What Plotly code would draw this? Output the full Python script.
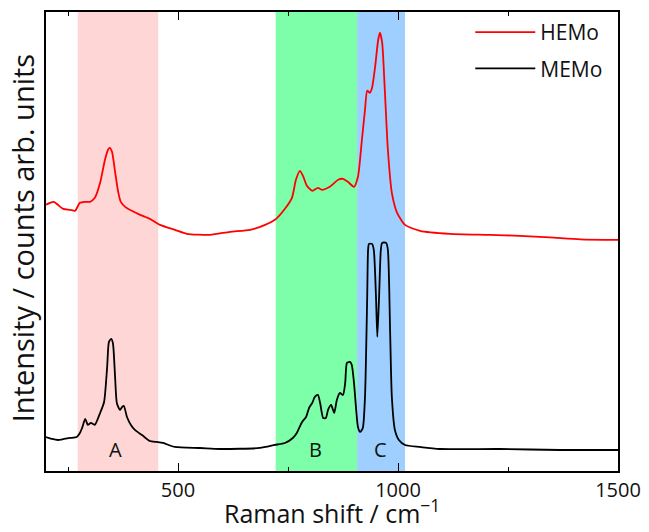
import plotly.graph_objects as go

# ---- data ----
hemo_shift = [200, 209, 218, 227, 239, 255, 266, 277, 289, 300, 311, 323, 334, 341, 345, 350,
              357, 364, 370, 380, 395, 414, 436, 459, 493, 520, 573, 618, 664, 698, 723, 743,
              759, 768, 777, 784, 793, 805, 818, 827, 845, 864, 875, 886, 900, 909, 918, 925,
              930, 936, 941, 948, 955, 959, 964, 970, 977, 986, 998, 1016, 1050, 1118, 1209,
              1277, 1345, 1414, 1500]
hemo_int = [266, 268, 269, 266, 262, 261, 260, 268, 269, 269, 273, 288, 311, 321, 323, 319,
            299, 279, 269, 264, 260, 256, 252, 246, 241, 237, 236, 239, 241, 246, 252, 262,
            273, 291, 300, 295, 285, 280, 283, 281, 284, 291, 292, 289, 284, 294, 331, 361,
            380, 378, 383, 404, 431, 438, 428, 381, 321, 278, 258, 246, 240, 237, 236,
            235, 233.5, 231.5, 231]

memo_shift = [200, 214, 227, 241, 255, 270, 277, 282, 289, 293, 295, 302, 307, 311, 323, 332,
              339, 343, 348, 352, 357, 361, 368, 373, 377, 384, 393, 402, 418, 436, 452, 466,
              493, 550, 595, 686, 720, 743, 761, 770, 782, 791, 798, 805, 811, 818, 823, 830,
              836, 841, 848, 855, 861, 868, 875, 880, 884, 891, 895, 900, 905, 909, 914, 920,
              925, 930, 932, 934, 941, 945, 950, 953, 957, 961, 964, 973, 977, 982, 986, 993,
              1002, 1016, 1050, 1095, 1232, 1368, 1500]
memo_int = [34, 32, 31, 32, 33, 34, 38, 43, 52, 48, 46, 48, 47, 46, 58, 69,
            104, 129, 132, 128, 94, 68, 61, 64, 65, 54, 46, 41, 36, 30, 29, 28,
            24, 23, 22, 23, 26, 28, 33, 38, 49, 54, 63, 68, 74, 76, 68, 53,
            53, 61, 66, 58, 71, 78, 76, 88, 108, 109, 106, 88, 61, 44, 39, 43,
            74, 174, 221, 227, 227, 221, 174, 134, 174, 221, 228, 228, 221, 141, 74, 41,
            31, 26, 24, 22, 22, 21, 21]

series_names = ["HEMo", "MEMo"]
region_labels = ["A", "B", "C"]
region_start = [272, 722, 907]
region_end = [455, 907, 1016]
region_label_pos = [357, 813, 960]
x_ticks = [500, 1000, 1500]
x_title = "Raman shift / cm<sup>\u22121</sup>"
y_title = "Intensity / counts arb. units"

region_colors = ["#FFD6D6", "#7CFFA8", "#9ECFFF"]

fig = go.Figure()
fig.add_trace(go.Scatter(x=hemo_shift, y=hemo_int, mode="lines", name=series_names[0],
                         legendgroup="g1",
                         line=dict(color="#FF0000", width=1.8, shape="spline", smoothing=0.6)))
fig.add_trace(go.Scatter(x=memo_shift, y=memo_int, mode="lines", name=series_names[1],
                         legendgroup="g2",
                         line=dict(color="#000000", width=1.8, shape="spline", smoothing=0.6)))

for x0, x1, c in zip(region_start, region_end, region_colors):
    fig.add_shape(type="rect", xref="x", yref="paper", x0=x0, x1=x1, y0=0, y1=1,
                  fillcolor=c, line=dict(width=0), layer="below")

for lab, xp in zip(region_labels, region_label_pos):
    fig.add_annotation(x=xp, y=21, xref="x", yref="y", text=lab, showarrow=False,
                       font=dict(family="Open Sans", size=20, color="#111111"))

# axis titles as annotations for exact placement
fig.add_annotation(x=0.5, y=-0.1329, xref="paper", yref="paper", text=x_title,
                   showarrow=False, xanchor="center", yanchor="bottom",
                   font=dict(family="Open Sans", size=25, color="#111111"))
fig.add_annotation(x=-0.042, y=0.509, xref="paper", yref="paper", text=y_title,
                   showarrow=False, xanchor="center", yanchor="middle", textangle=-90,
                   font=dict(family="Open Sans", size=29, color="#111111"))

fig.update_layout(
    width=649, height=532,
    margin=dict(l=46, r=31, t=12, b=61, autoexpand=False),
    paper_bgcolor="white", plot_bgcolor="white",
    font=dict(family="Open Sans", color="#111111"),
    showlegend=True,
    legend=dict(x=0.983, xanchor="right", y=1.0, yanchor="top",
                bgcolor="rgba(0,0,0,0)", font=dict(size=21), tracegroupgap=6,
                itemwidth=60),
)
fig.update_xaxes(
    range=[200, 1500], tickvals=x_ticks, ticktext=[str(v) for v in x_ticks],
    ticks="inside", ticklen=8, tickwidth=1.3, tickcolor="#000",
    minor=dict(ticks="inside", ticklen=4, tickwidth=1.3, tickcolor="#000", dtick=250, tick0=0),
    showline=True, linecolor="#000", linewidth=1.5, mirror="ticks",
    showgrid=False, zeroline=False, automargin=False,
    tickfont=dict(size=20),
)
fig.update_yaxes(
    range=[0, 458.7], showticklabels=False, ticks="",
    showline=True, linecolor="#000", linewidth=1.5, mirror=True,
    showgrid=False, zeroline=False, automargin=False,
)

fig.write_html("out.html", config={"displayModeBar": False},
               post_script="document.body.style.margin='0';document.body.style.padding='0';")
